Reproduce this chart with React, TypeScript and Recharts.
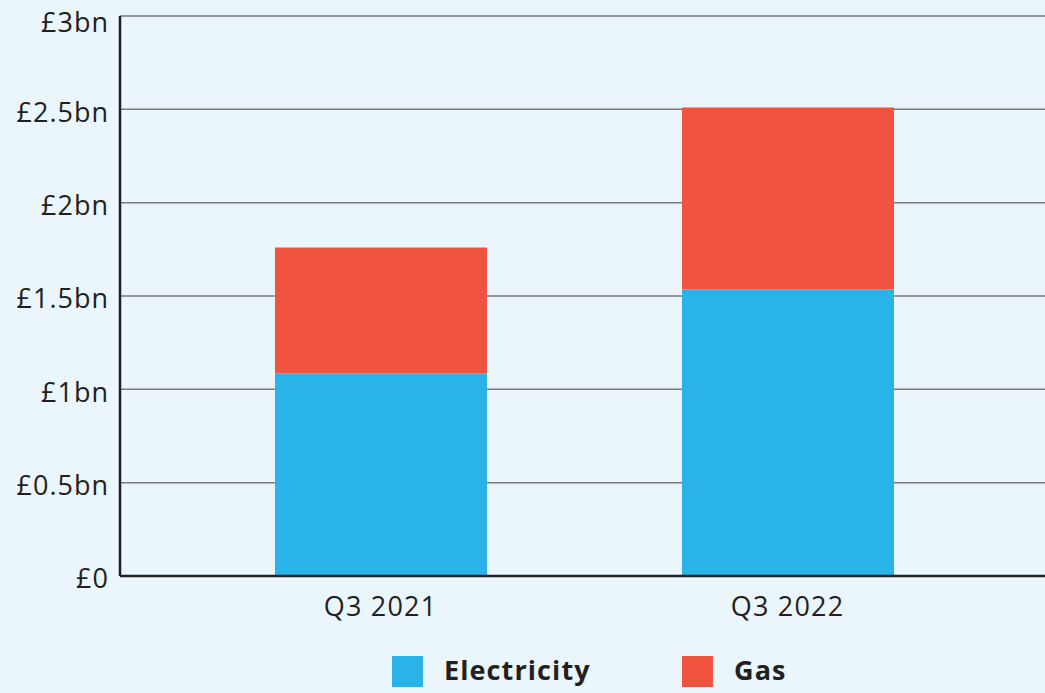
import { BarChart, Bar, XAxis, YAxis, CartesianGrid, Legend } from 'recharts'

const quarters = ['Q3 2021', 'Q3 2022']
const electricity = [1.085, 1.535]
const gas = [0.675, 0.975]
const yTicks = [0, 0.5, 1, 1.5, 2, 2.5, 3]

const data = quarters.map((q, i) => ({ quarter: q, electricity: electricity[i], gas: gas[i] }))

const BLUE = '#29b3e8'
const RED = '#f05340'
const TEXT = '#231f20'
const FONT = "'Open Sans', sans-serif"

const fmt = (v: number) => (v === 0 ? '£0' : `£${v}bn`)

function YTick({ x, y, payload }: any) {
  const shift = payload.value === 3 ? 9 : 5
  return (
    <text x={x} y={y + shift} textAnchor="end" dominantBaseline="middle" fill={TEXT} fontSize={27} fontWeight={500} fontFamily={FONT} letterSpacing={1}>
      {fmt(payload.value)}
    </text>
  )
}

function XTick({ x, y, payload }: any) {
  return (
    <text x={x} y={y + 32} textAnchor="middle" fill={TEXT} fontSize={27} fontWeight={500} fontFamily={FONT} letterSpacing={1.2}>
      {payload.value}
    </text>
  )
}

function LegendContent() {
  const items = [
    { name: 'Electricity', color: BLUE, w: 290 },
    { name: 'Gas', color: RED, w: 120 },
  ]
  return (
    <div style={{ display: 'flex', paddingLeft: 392 }}>
      {items.map((it) => (
        <div key={it.name} style={{ display: 'flex', alignItems: 'center', width: it.w }}>
          <div style={{ width: 31, height: 31, background: it.color, marginRight: 21 }} />
          <span style={{ fontFamily: FONT, fontWeight: 700, fontSize: 27, letterSpacing: 1.1, color: TEXT, marginTop: -3 }}>{it.name}</span>
        </div>
      ))}
    </div>
  )
}

export default function App() {
  return (
    <div style={{ position: 'absolute', top: 0, left: 0, width: 1045, height: 693, background: '#eaf5fc' }}>
      <BarChart width={1045} height={693} data={data} margin={{ top: 16, right: 0, bottom: 23, left: 0 }}>
        <CartesianGrid vertical={false} stroke="#7a7a7a" strokeWidth={1.5} />
        <XAxis
          dataKey="quarter"
          tick={<XTick />}
          tickLine={false}
          axisLine={{ stroke: '#231f20', strokeWidth: 2.5 }}
          padding={{ left: 57, right: 54 }}
          height={60}
        />
        <YAxis
          domain={[0, 3]}
          ticks={yTicks}
          tick={<YTick />}
          tickLine={false}
          axisLine={{ stroke: '#231f20', strokeWidth: 2.5 }}
          width={120}
          tickMargin={5}
        />
        <Legend content={<LegendContent />} wrapperStyle={{ top: 654, left: 0, width: 1045 }} />
        <Bar dataKey="electricity" stackId="a" fill={BLUE} barSize={212} isAnimationActive={false} />
        <Bar dataKey="gas" stackId="a" fill={RED} barSize={212} isAnimationActive={false} />
      </BarChart>
    </div>
  )
}
